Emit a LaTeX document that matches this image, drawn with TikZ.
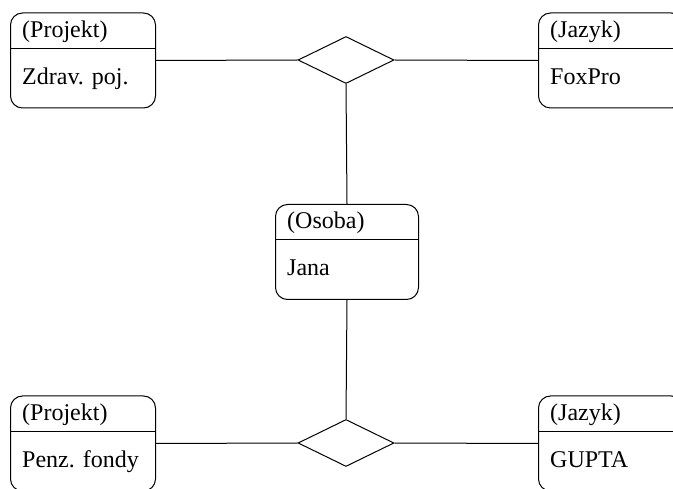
\documentclass[tikz,border=0pt]{standalone}
\usepackage{fontspec}
\setmainfont{Liberation Serif}
\usetikzlibrary{shapes.geometric}

\tikzset{
  entitybox/.style={draw, line width=1pt, rounded corners=12pt, anchor=north west,
    minimum width=145pt, minimum height=95pt, inner sep=0pt},
  relation/.style={draw, line width=1pt, diamond, inner sep=0pt,
    minimum width=96pt, minimum height=47pt},
  label/.style={anchor=base west, inner sep=0pt, font=\fontsize{24}{28}\selectfont},
  link/.style={line width=1pt},
}

% one entity: #1 name, #2 top-left corner, #3 width, #4 type, #5 value
\newcommand{\entity}[5]{%
  \node[entitybox, minimum width=#3] (#1) at (#2) {};
  \draw[link] ([yshift=-36pt]#1.north west) -- ([yshift=-36pt]#1.north east);
  \node[label] (#1-type) at ([xshift=12pt,yshift=-25pt]#1.north west) {#4};
  \node[label] (#1-value) at ([xshift=12pt,yshift=-72pt]#1.north west) {#5};
}

\begin{document}
\begin{tikzpicture}[x=1pt,y=-1pt]
  \useasboundingbox (0,0) rectangle (673,489);
  \clip (0,0) rectangle (673,489);

  \entity{proj1}{10,12.5}{145pt}{(Projekt)}{Zdrav. poj.}
  \entity{lang1}{538,12.5}{145pt}{(Jazyk)}{FoxPro}
  \entity{person}{275,204}{143pt}{(Osoba)}{Jana}
  \entity{proj2}{10,395.5}{145pt}{(Projekt)}{Penz. fondy}
  \entity{lang2}{538,395.5}{145pt}{(Jazyk)}{GUPTA}

  \node[relation] (rel1) at (346,60) {};
  \node[relation] (rel2) at (346,443) {};

  \draw[link] (proj1.east) -- (rel1.west);
  \draw[link] (rel1.east) -- (lang1.west);
  \draw[link] (rel1.south) -- (person.north);
  \draw[link] (person.south) -- (rel2.north);
  \draw[link] (proj2.east) -- (rel2.west);
  \draw[link] (rel2.east) -- (lang2.west);
\end{tikzpicture}
\end{document}
